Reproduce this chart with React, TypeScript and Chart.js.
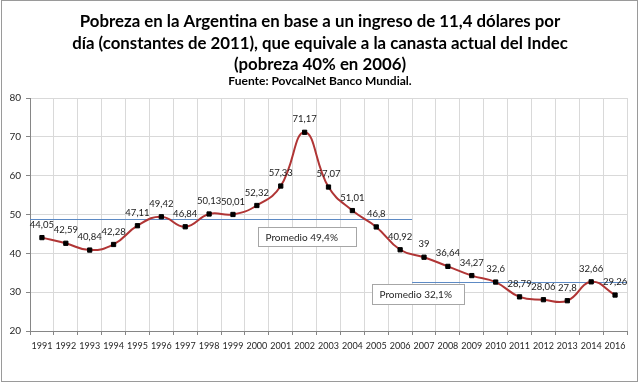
import { useEffect, useRef } from 'react';
import { Chart, registerables } from 'chart.js';

Chart.register(...registerables);

// ---- data ----
const categories = [
  '1991', '1992', '1993', '1994', '1995', '1996', '1997', '1998', '1999', '2000',
  '2001', '2002', '2003', '2004', '2005', '2006', '2007', '2008', '2009', '2010',
  '2011', '2012', '2013', '2014', '2016',
];
const poverty = [
  44.05, 42.59, 40.84, 42.28, 47.11, 49.42, 46.84, 50.13, 50.01, 52.32,
  57.33, 71.17, 57.07, 51.01, 46.8, 40.92, 39, 36.64, 34.27, 32.6,
  28.79, 28.06, 27.8, 32.66, 29.26,
];
const averageLabels = ['Promedio 49,4%', 'Promedio 32,1%'];
const averageValues = [48.8, 32.5];
const averageStart = ['1991', '2007'];
const averageEnd = ['2006', '2016'];
const titleLines = [
  'Pobreza en la Argentina en base a un ingreso de 11,4 dólares por',
  'día (constantes de 2011), que equivale a la canasta actual del Indec',
  '(pobreza 40% en 2006)',
];
const sourceLine = 'Fuente: PovcalNet Banco Mundial.';
const yMin = 20;
const yMax = 80;
const yStep = 10;

const FONT = 'Lato';

const fmt = (v: number) => String(v).replace('.', ',');

const frameAndTitlePlugin = {
  id: 'frameAndTitle',
  beforeDraw(chart: any) {
    const { ctx, width, height } = chart;
    ctx.save();
    ctx.fillStyle = '#ffffff';
    ctx.fillRect(0, 0, width, height);
    ctx.restore();
  },
  afterDraw(chart: any) {
    const { ctx, width, height } = chart;
    ctx.save();
    ctx.strokeStyle = '#9a9a9a';
    ctx.lineWidth = 1;
    ctx.strokeRect(1.5, 0.5, width - 4, height - 1);
    ctx.fillStyle = '#000000';
    ctx.textAlign = 'center';
    ctx.textBaseline = 'middle';
    // fit the widest title line to the width it has in the reference
    ctx.font = `bold 16px ${FONT}`;
    const w = ctx.measureText(titleLines[1]).width;
    const size = (16 * 496) / w;
    ctx.font = `bold ${size.toFixed(2)}px ${FONT}`;
    const cx = width / 2;
    const ys = [22, 43.5, 65];
    titleLines.forEach((t, i) => ctx.fillText(t, cx, ys[i]));
    ctx.font = `bold 12px ${FONT}`;
    ctx.fillText(sourceLine, cx, 81);
    ctx.restore();
  },
};

const averagePlugin = {
  id: 'averages',
  beforeDatasetsDraw(chart: any) {
    const { ctx } = chart;
    const xs = chart.scales.x;
    const ys = chart.scales.y;
    ctx.save();
    ctx.strokeStyle = '#5d8ac4';
    ctx.lineWidth = 1;
    averageValues.forEach((v, i) => {
      const a = categories.indexOf(averageStart[i]);
      const b = categories.indexOf(averageEnd[i]);
      const x1 = xs.getPixelForValue(a - 0.5);
      const x2 = xs.getPixelForValue(b + 0.5);
      const y = Math.round(ys.getPixelForValue(v)) + 0.5;
      ctx.beginPath();
      ctx.moveTo(x1, y);
      ctx.lineTo(x2, y);
      ctx.stroke();
    });
    ctx.restore();
  },
  afterDatasetsDraw(chart: any, _args: any, opts: any) {
    const { ctx } = chart;
    const xs = chart.scales.x;
    const ys = chart.scales.y;
    ctx.save();
    // value labels
    const meta = chart.getDatasetMeta(0);
    ctx.font = `9.5px ${FONT}`;
    ctx.fillStyle = '#1a1a1a';
    ctx.textAlign = 'center';
    ctx.textBaseline = 'middle';
    meta.data.forEach((pt: any, i: number) => {
      ctx.fillText(fmt(poverty[i]), pt.x, pt.y - 13);
    });
    // average label boxes
    ctx.font = `10px ${FONT}`;
    ctx.textAlign = 'left';
    (opts.boxes || []).forEach((bx: any, i: number) => {
      const x1 = Math.round(xs.getPixelForValue(bx.from)) + 0.5;
      const x2 = Math.round(xs.getPixelForValue(bx.to)) + 0.5;
      const y1 = Math.round(ys.getPixelForValue(bx.top)) + 0.5;
      const y2 = Math.round(ys.getPixelForValue(bx.bottom)) + 0.5;
      ctx.fillStyle = '#ffffff';
      ctx.fillRect(x1, y1, x2 - x1, y2 - y1);
      ctx.strokeStyle = '#a6a6a6';
      ctx.strokeRect(x1, y1, x2 - x1, y2 - y1);
      ctx.fillStyle = '#262626';
      ctx.fillText(averageLabels[i], x1 + 7, (y1 + y2) / 2 + 0.5);
    });
    ctx.restore();
  },
};

export default function App() {
  const ref = useRef<HTMLCanvasElement>(null);
  useEffect(() => {
    const chart = new Chart(ref.current as HTMLCanvasElement, {
      type: 'line',
      data: {
        labels: categories,
        datasets: [
          {
            data: poverty,
            borderColor: '#b03535',
            borderWidth: 2,
            tension: 0.45,
            pointStyle: 'rect',
            pointRadius: 3,
            pointBackgroundColor: '#000000',
            pointBorderColor: '#000000',
            pointBorderWidth: 1,
            fill: false,
          },
        ],
      },
      options: {
        animation: false,
        responsive: true,
        maintainAspectRatio: false,
        layout: { padding: { top: 98, right: 13, left: 0, bottom: 0 } },
        plugins: {
          legend: { display: false },
          tooltip: { enabled: false },
          title: { display: false },
          averages: {
            boxes: [
              { from: 9.06, to: 13.16, top: 46.8, bottom: 41.9 },
              { from: 13.83, to: 17.69, top: 32.1, bottom: 27.0 },
            ],
          },
        } as any,
        scales: {
          x: {
            offset: true,
            grid: {
              offset: true,
              color: '#d9d9d9',
              tickColor: '#868686',
              tickLength: 4,
              lineWidth: 1,
            },
            border: { color: '#868686' },
            ticks: {
              font: { family: FONT, size: 9 },
              color: '#262626',
              padding: 6,
              maxRotation: 0,
              autoSkip: false,
            },
            afterFit: (s: any) => {
              s.height = 51;
            },
          },
          y: {
            min: yMin,
            max: yMax,
            grid: { color: '#d9d9d9', tickColor: '#868686', tickLength: 4 },
            border: { color: '#868686' },
            ticks: {
              stepSize: yStep,
              font: { family: FONT, size: 10 },
              color: '#262626',
              padding: 5,
            },
            afterFit: (s: any) => {
              s.width = 30;
            },
          },
        },
      },
      plugins: [frameAndTitlePlugin, averagePlugin],
    });
    return () => chart.destroy();
  }, []);
  return (
    <div style={{ position: 'absolute', left: 0, top: 0, width: 640, height: 382 }}>
      <canvas ref={ref} />
    </div>
  );
}
